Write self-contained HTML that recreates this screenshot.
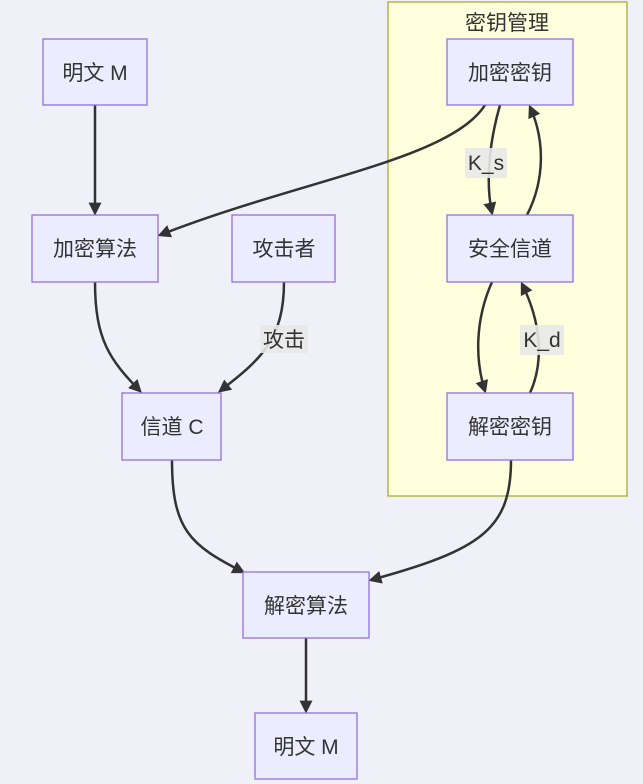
<!DOCTYPE html>
<html><head><meta charset="utf-8"><style>
html,body{margin:0;padding:0;background:#f0f0f8;}
svg{display:block;}
text{font-family:"Liberation Sans","Noto Sans CJK SC",sans-serif;font-size:21px;fill:#333;}
.n{fill:#ececff;stroke:#9370db;stroke-width:1.3;}
.e{fill:none;stroke:#333;stroke-width:2.5;}
.lb{fill:#e8e8e8;opacity:0.9;}
</style></head><body>
<svg width="643" height="784" viewBox="0 0 643 784">
<defs><marker id="a" viewBox="0 0 10 10" refX="8" refY="5" markerWidth="13" markerHeight="13" orient="auto" markerUnits="userSpaceOnUse"><path d="M0,0L10,5L0,10z" fill="#333"/></marker></defs>
<rect x="388" y="2" width="239" height="494" fill="#ffffde" stroke="#aaaa33" stroke-width="1.3"/>
<text x="507" y="30" text-anchor="middle">密钥管理</text>

<path class="e" d="M95,105 L95,213" marker-end="url(#a)"/>
<path class="e" d="M485,105 C450,160 300,180 160,235" marker-end="url(#a)"/>
<path class="e" d="M95,282 C95,340 110,360 140,391" marker-end="url(#a)"/>
<path class="e" d="M284,282 C284,340 260,360 220,391" marker-end="url(#a)"/>
<path class="e" d="M500,105 C490,140 485,180 492,213" marker-end="url(#a)"/>
<path class="e" d="M527,215 C545,180 545,140 530,107" marker-end="url(#a)"/>
<path class="e" d="M492,282 C475,320 475,360 485,391" marker-end="url(#a)"/>
<path class="e" d="M530,393 C545,360 540,320 522,284" marker-end="url(#a)"/>
<path class="e" d="M172,460 C172,530 190,545 243,572" marker-end="url(#a)"/>
<path class="e" d="M511,460 C511,530 480,550 371,580" marker-end="url(#a)"/>
<path class="e" d="M306,638 L306,711" marker-end="url(#a)"/>

<rect class="lb" x="260" y="325" width="48" height="28"/><text x="284" y="347" text-anchor="middle">攻击</text>
<rect class="lb" x="465" y="148" width="42" height="30"/><text x="486" y="170" text-anchor="middle">K_s</text>
<rect class="lb" x="520" y="325" width="44" height="30"/><text x="542" y="347" text-anchor="middle">K_d</text>

<rect class="n" x="43" y="39" width="104" height="66"/><text x="95" y="80" text-anchor="middle">明文 M</text>
<rect class="n" x="32" y="215" width="126" height="67"/><text x="95" y="256" text-anchor="middle">加密算法</text>
<rect class="n" x="232" y="215" width="103" height="67"/><text x="284" y="256" text-anchor="middle">攻击者</text>
<rect class="n" x="122" y="393" width="99" height="67"/><text x="172" y="434" text-anchor="middle">信道 C</text>
<rect class="n" x="243" y="572" width="126" height="66"/><text x="306" y="613" text-anchor="middle">解密算法</text>
<rect class="n" x="255" y="713" width="102" height="66"/><text x="306" y="754" text-anchor="middle">明文 M</text>
<rect class="n" x="447" y="39" width="126" height="66"/><text x="510" y="80" text-anchor="middle">加密密钥</text>
<rect class="n" x="447" y="215" width="126" height="67"/><text x="510" y="256" text-anchor="middle">安全信道</text>
<rect class="n" x="447" y="393" width="126" height="67"/><text x="510" y="434" text-anchor="middle">解密密钥</text>
</svg>
</body></html>
